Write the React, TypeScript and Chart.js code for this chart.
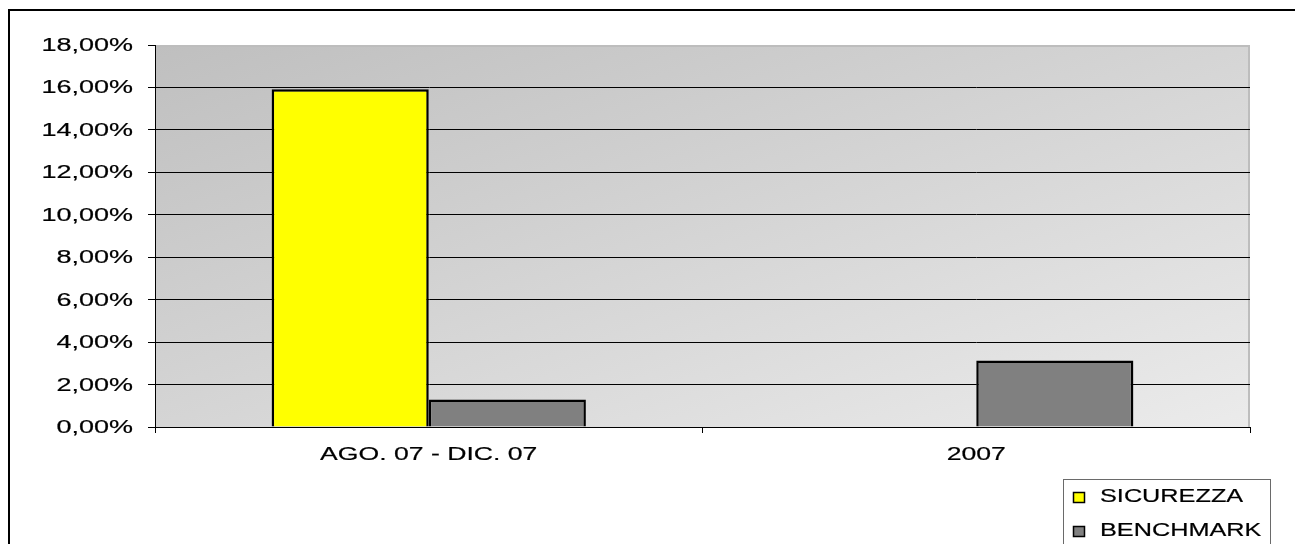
import React, { useEffect, useRef } from "react";
import { Chart, registerables } from "chart.js";

Chart.register(...registerables);

// ---- data ----
const categories: string[] = ["AGO. 07 - DIC. 07", "2007"];
const seriesNames: string[] = ["SICUREZZA", "BENCHMARK"];
const sicurezzaValues: (number | null)[] = [15.91, null];
const benchmarkValues: (number | null)[] = [1.3, 3.13];
const yMin = 0;
const yMax = 18;
const yStep = 2;

const seriesColors = ["#ffff00", "#808080"];
const FONT = '"Liberation Sans", Arial, sans-serif';

function fmtPct(v: number): string {
  return v.toFixed(2).replace(".", ",") + "%";
}

function drawScaledText(
  ctx: CanvasRenderingContext2D,
  text: string,
  x: number,
  y: number,
  size: number,
  sx: number,
  align: CanvasTextAlign
) {
  ctx.save();
  ctx.font = `${size}px ${FONT}`;
  ctx.fillStyle = "#000";
  ctx.strokeStyle = "#000";
  ctx.lineWidth = 0.2;
  ctx.lineJoin = "round";
  ctx.textBaseline = "middle";
  ctx.textAlign = align;
  ctx.translate(x, y);
  ctx.scale(sx, 1);
  ctx.fillText(text, 0, 0);
  ctx.strokeText(text, 0, 0);
  ctx.restore();
}

const decorPlugin = {
  id: "decor",
  beforeDraw(chart: any) {
    const ctx: CanvasRenderingContext2D = chart.ctx;
    const { left, right, top, bottom } = chart.chartArea;
    ctx.save();
    ctx.fillStyle = "#ffffff";
    ctx.fillRect(0, 0, chart.width, chart.height);
    // outer frame
    ctx.fillStyle = "#000";
    ctx.fillRect(8, 9, 2, chart.height);
    ctx.fillRect(8, 9, chart.width, 2);
    // plot area gradient (diagonal in normalized coordinates)
    const w = right - left;
    const h = bottom - top;
    const k = (2 * w * h) / (w * w + h * h);
    const g = ctx.createLinearGradient(left, top, left + k * h, top + k * w);
    g.addColorStop(0, "#bfbfbf");
    g.addColorStop(1, "#ebebeb");
    ctx.fillStyle = g;
    ctx.fillRect(left, top, w, h);
    ctx.strokeStyle = "#bdbdbd";
    ctx.lineWidth = 2;
    ctx.beginPath();
    ctx.moveTo(left, top + 1);
    ctx.lineTo(right - 1, top + 1);
    ctx.lineTo(right - 1, bottom);
    ctx.stroke();
    ctx.restore();
  },
  afterDraw(chart: any) {
    const ctx: CanvasRenderingContext2D = chart.ctx;
    const yScale = chart.scales.y;
    const xScale = chart.scales.x;
    // y tick labels
    yScale.ticks.forEach((t: any) => {
      const y = yScale.getPixelForValue(t.value);
      drawScaledText(ctx, fmtPct(t.value), 133, y + 1, 18, 1.5, "right");
    });
    // x category labels
    (chart.data.labels as string[]).forEach((lab, i) => {
      const x = xScale.getPixelForValue(i);
      drawScaledText(ctx, lab, x, xScale.top + 28, 19, 1.4, "center");
    });
    // legend
    ctx.save();
    ctx.fillStyle = "#fff";
    ctx.fillRect(1063, 479, 207, 100);
    ctx.strokeStyle = "#6a6a6a";
    ctx.lineWidth = 1;
    ctx.strokeRect(1063.5, 479.5, 207, 100);
    chart.data.datasets.forEach((ds: any, i: number) => {
      const cy = 497 + i * 34;
      ctx.fillStyle = ds.backgroundColor;
      ctx.fillRect(1073, cy - 5, 12, 11);
      ctx.strokeStyle = "#000";
      ctx.lineWidth = 1.5;
      ctx.strokeRect(1073.5, cy - 4.5, 11, 10);
      drawScaledText(ctx, ds.label, 1100, cy, 19, 1.33, "left");
    });
    ctx.restore();
  },
};

export default function App() {
  const canvasRef = useRef<HTMLCanvasElement | null>(null);

  useEffect(() => {
    document.body.style.margin = "0";
    const canvas = canvasRef.current;
    if (!canvas) return;
    const chart = new Chart(canvas, {
      type: "bar",
      data: {
        labels: categories,
        datasets: [
          {
            label: seriesNames[0],
            data: sicurezzaValues,
            backgroundColor: seriesColors[0],
            borderColor: "#000",
            borderWidth: 2.5,
          },
          {
            label: seriesNames[1],
            data: benchmarkValues,
            backgroundColor: seriesColors[1],
            borderColor: "#000",
            borderWidth: 2.5,
          },
        ],
      },
      options: {
        responsive: false,
        animation: false,
        devicePixelRatio: 1,
        layout: { padding: { top: 45, right: 45, left: 0, bottom: 0 } },
        datasets: {
          bar: { categoryPercentage: 0.574, barPercentage: 1 },
        },
        plugins: {
          legend: { display: false },
          tooltip: { enabled: false },
          title: { display: false },
        },
        scales: {
          x: {
            ticks: { display: false },
            grid: {
              offset: true,
              drawOnChartArea: false,
              drawTicks: true,
              tickLength: 6,
              color: "#000",
              tickColor: "#000",
            },
            border: { display: true, color: "#000", width: 1 },
            afterFit: (scale: any) => {
              scale.height = 117;
            },
          },
          y: {
            min: yMin,
            max: yMax,
            ticks: { display: false, stepSize: yStep },
            grid: {
              color: (c: any) =>
                c.tick && c.tick.value === yMax ? "rgba(0,0,0,0)" : "#000",
              tickColor: "#000",
              tickLength: 7,
              lineWidth: 1,
            },
            border: { display: true, color: "#000", width: 1 },
            afterFit: (scale: any) => {
              scale.width = 155;
            },
          },
        },
      },
      plugins: [decorPlugin],
    });
    return () => chart.destroy();
  }, []);

  return (
    <div style={{ width: 1295, height: 544, overflow: "hidden" }}>
      <canvas ref={canvasRef} width={1295} height={544} style={{ display: "block" }} />
    </div>
  );
}
